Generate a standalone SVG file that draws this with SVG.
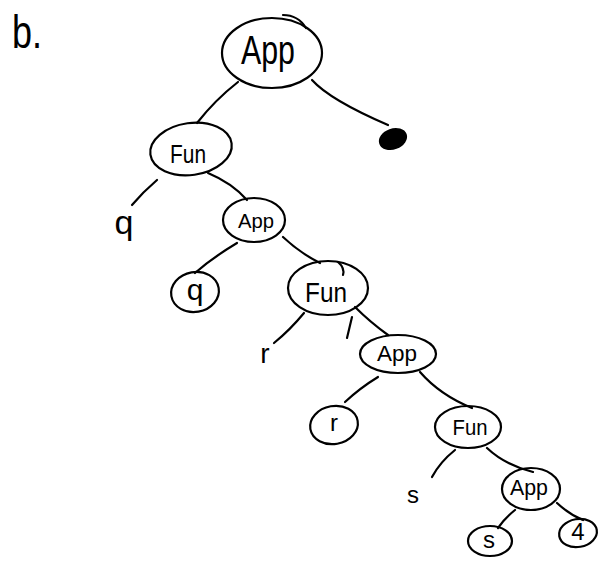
<svg xmlns="http://www.w3.org/2000/svg" width="613" height="571" viewBox="0 0 613 571">
<style>
.n{fill:none;stroke:#000;stroke-width:2.2;stroke-linecap:round}
.e{fill:none;stroke:#000;stroke-width:2.2;stroke-linecap:round}
.t{font-family:"Liberation Sans",Arial,sans-serif;fill:#000;text-anchor:middle}
</style>
<rect width="613" height="571" fill="#fff"/>
<text class="t" x="12" y="48" font-size="46" style="text-anchor:start" textLength="30" lengthAdjust="spacingAndGlyphs">b.</text>
<g id="connectors">
<path class="e" d="M238,82 Q215,100 197,123"/>
<path class="e" d="M312,80 Q330,100 388,125"/>
<path class="e" d="M157,180 Q143,192 132,205"/>
<path class="e" d="M208,173 Q232,183 247,200"/>
<path class="e" d="M237,243 Q212,258 195,273"/>
<path class="e" d="M283,237 Q300,253 320,263"/>
<path class="e" d="M304,313 Q290,330 274,343"/>
<path class="e" d="M352,317 L347,338"/>
<path class="e" d="M355,307 Q370,322 388,335"/>
<path class="e" d="M378,377 Q360,388 345,402"/>
<path class="e" d="M420,372 Q440,395 472,408"/>
<path class="e" d="M455,450 Q440,462 432,477"/>
<path class="e" d="M487,448 Q505,465 533,472"/>
<path class="e" d="M515,510 Q505,518 498,528"/>
<path class="e" d="M557,503 Q570,515 583,520"/>
</g>
<g id="root">
<ellipse class="n" cx="272" cy="53" rx="50" ry="35"/>
<path class="n" d="M283,15 Q298,15 306,28"/>
<text class="t" x="268" y="64" font-size="40" textLength="54" lengthAdjust="spacingAndGlyphs">App</text>
</g>
<g id="dot">
<ellipse cx="393" cy="139" rx="14.5" ry="10.5" transform="rotate(-20 393 139)" fill="#000"/>
</g>
<g id="fun1">
<ellipse class="n" cx="191" cy="149" rx="41" ry="26" transform="rotate(-8 191 149)"/>
<text class="t" x="188" y="163" font-size="26" textLength="36" lengthAdjust="spacingAndGlyphs">Fun</text>
</g>
<g id="q-label"><text class="t" x="124" y="234" font-size="34">q</text></g>
<g id="app2">
<ellipse class="n" cx="254" cy="220" rx="31" ry="22"/>
<text class="t" x="256" y="228" font-size="20" textLength="36" lengthAdjust="spacingAndGlyphs">App</text>
</g>
<g id="q-leaf">
<ellipse class="n" cx="195" cy="292" rx="24" ry="20" transform="rotate(-10 195 292)"/>
<text class="t" x="195" y="300" font-size="30">q</text>
</g>
<g id="fun2">
<ellipse class="n" cx="328" cy="288" rx="40" ry="27"/>
<path class="n" d="M338,262 Q345,268 343,275"/>
<text class="t" x="326" y="302" font-size="28" textLength="42" lengthAdjust="spacingAndGlyphs">Fun</text>
</g>
<g id="r-label"><text class="t" x="265" y="363" font-size="28">r</text></g>
<g id="app3">
<ellipse class="n" cx="398" cy="354" rx="38" ry="19"/>
<text class="t" x="397" y="361" font-size="22" textLength="40" lengthAdjust="spacingAndGlyphs">App</text>
</g>
<g id="r-leaf">
<ellipse class="n" cx="334" cy="425" rx="24" ry="19" transform="rotate(-10 334 425)"/>
<text class="t" x="334" y="431" font-size="24">r</text>
</g>
<g id="fun3">
<ellipse class="n" cx="468" cy="427" rx="33" ry="21"/>
<text class="t" x="470" y="435" font-size="22" textLength="35" lengthAdjust="spacingAndGlyphs">Fun</text>
</g>
<g id="s-label"><text class="t" x="413" y="503" font-size="24">s</text></g>
<g id="app4">
<ellipse class="n" cx="531" cy="489" rx="29" ry="21"/>
<text class="t" x="529" y="495" font-size="22" textLength="38" lengthAdjust="spacingAndGlyphs">App</text>
</g>
<g id="s-leaf">
<ellipse class="n" cx="490" cy="541" rx="22" ry="15"/>
<text class="t" x="489" y="548" font-size="24">s</text>
</g>
<g id="four-leaf">
<ellipse class="n" cx="578" cy="533" rx="19" ry="14" transform="rotate(-10 578 533)"/>
<text class="t" x="578" y="540" font-size="24">4</text>
</g>
</svg>
